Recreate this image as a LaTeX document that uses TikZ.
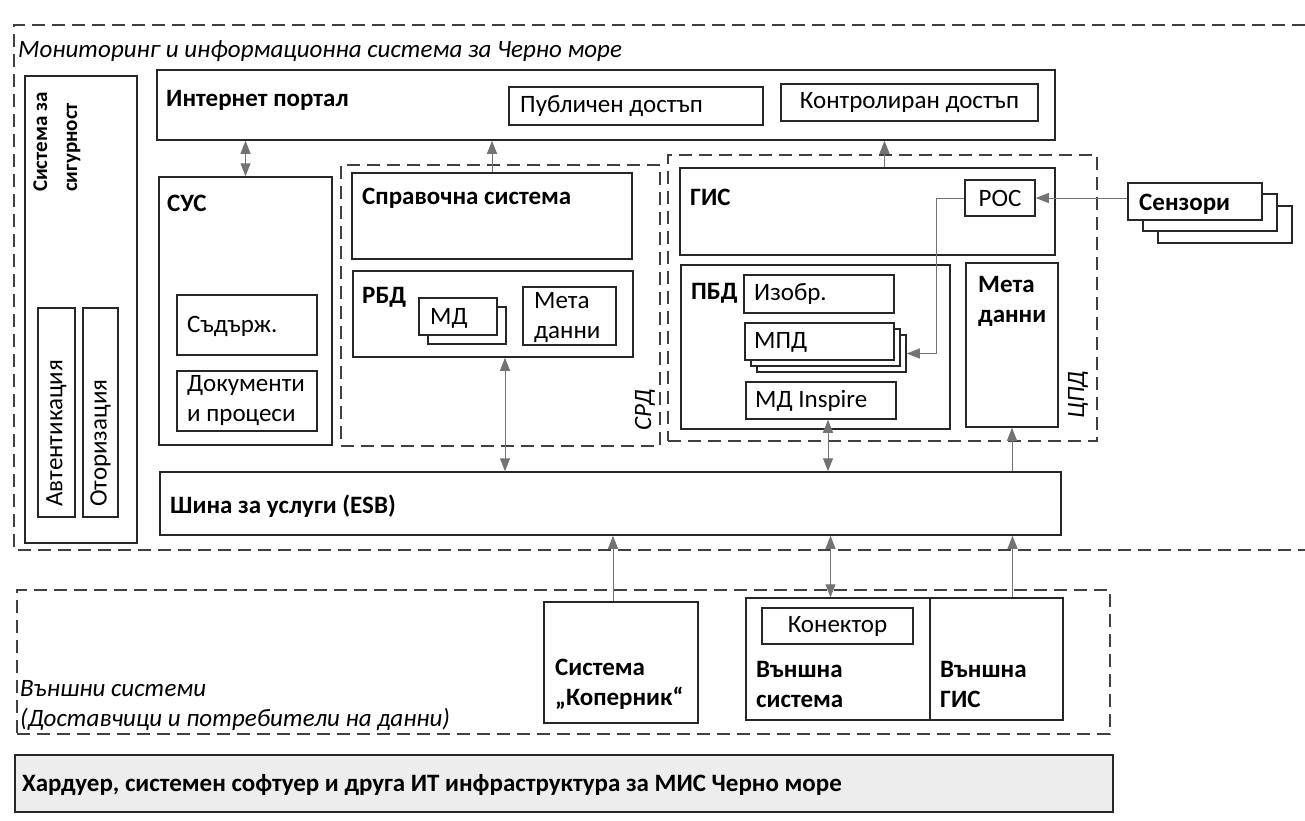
\documentclass[tikz,border=0pt]{standalone}
\usepackage{fontspec}
\setmainfont{Carlito}
\usetikzlibrary{arrows.meta, fit, positioning}
\tikzstyle{box} = [rectangle, 
draw=black!85, 
line width=1.5pt, 
fill=white, 
inner sep=0pt]
\tikzstyle{group} = [rectangle, 
draw=black!75, 
line width=1.4pt, 
dash pattern=on 13pt off 7pt, 
inner sep=0pt]
\tikzstyle{dashline} = [draw=black!75, line width=1.4pt, dash pattern=on 13pt off 7pt]
\tikzstyle{head} = [font=\bfseries, anchor=west, inner sep=0pt]
\tikzstyle{plain} = [anchor=west, inner sep=0pt]
\tikzstyle{note} = [font=\itshape, anchor=west, inner sep=0pt]
\tikzstyle{arrow} = [line width=1pt, draw=black!55, -{Triangle[length=13pt, width=10pt]}]
\tikzstyle{twoway} = [arrow, {Triangle[length=13pt, width=10pt]}-{Triangle[length=13pt, width=10pt]}]
\begin{document}
\fontsize{25}{30}\selectfont
\begin{tikzpicture}[x=1pt, y=-1pt]
  \useasboundingbox (0,0) rectangle (1305,820);
  % MIS frame
  \draw [dashline] (1305,25) -- (14,25) -- (14,550) -- (1305,550);
  \node (mistitle) [note] at (18,51) {Мониторинг и информационна система за Черно море};

  % security
  \node (sec) [box, fit={(25,76) (137,543)}] {};
  \node (sectxt) [head, rotate=90, align=left, font=\fontsize{21}{30}\selectfont\bfseries] at (57,192) {Система за\\сигурност};
  \node (auth) [box, fit={(38,308) (75,517)}] {};
  \node (authtxt) [plain, rotate=90] at (56.5,507) {Автентикация};
  \node (authz) [box, fit={(83,308) (118,517)}] {};
  \node (authztxt) [plain, rotate=90] at (100.5,507) {Оторизация};

  % portal
  \node (portal) [box, fit={(157,70) (1055,140)}] {};
  \node (portaltxt) [head] at (166,100) {Интернет портал};
  \node (pub) [box, fit={(509,87) (763,125)}] {};
  \node (pubtxt) [plain] at (520,106) {Публичен достъп};
  \node (ctrl) [box, fit={(781,84) (1038,121)}] {};
  \node (ctrltxt) at (ctrl) {Контролиран достъп};

  % content management
  \node (sus) [box, fit={(159,177) (332,445)}] {};
  \node (sustxt) [head] at (167,203) {СУС};
  \node (content) [box, fit={(177,295) (317,355)}] {};
  \node (contenttxt) [plain] at (187,326) {Съдърж.};
  \node (docs) [box, fit={(177,371) (317,431)}] {};
  \node (docstxt) [plain, align=left] at (187,401) {Документи\\и процеси};

  % SRD
  \node (srd) [group, fit={(341,165) (660,446)}] {};
  \node (srdtxt) [note, rotate=90, anchor=center] at (645,410) {СРД};
  \node (ref) [box, fit={(352,173) (632,259)}] {};
  \node (reftxt) [head] at (362,198) {Справочна система};
  \node (rbd) [box, fit={(353,271) (633,357)}] {};
  \node (rbdtxt) [head] at (362,297) {РБД};
  \node (mdback) [box, fit={(428,307) (506,344)}] {};
  \node (md) [box, fit={(419,298) (497,335)}] {};
  \node (mdtxt) [plain] at (430,318) {МД};
  \node (meta1) [box, fit={(523,287) (616,345)}] {};
  \node (meta1txt) [plain, align=left] at (534,318) {Мета\\данни};

  % CPD
  \node (cpd) [group, fit={(668,155) (1097,441)}] {};
  \node (cpdtxt) [note, rotate=90, anchor=center] at (1078,395) {ЦПД};
  \node (gis) [box, fit={(680,168) (1055,255)}] {};
  \node (gistxt) [head] at (690,197) {ГИС};
  \node (roc) [box, fit={(965,180) (1035,216)}] {};
  \node (roctxt) at (roc) {РОС};
  \node (pbd) [box, fit={(681,265) (950,429)}] {};
  \node (pbdtxt) [head] at (691,293) {ПБД};
  \node (img) [box, fit={(744,275) (894,313)}] {};
  \node (imgtxt) [plain] at (754,294) {Изобр.};
  \node (mpdc) [box, fit={(757,335) (906,372)}] {};
  \node (mpdb) [box, fit={(751,329) (900,366)}] {};
  \node (mpd) [box, fit={(745,323) (894,360)}] {};
  \node (mpdtxt) [plain] at (754,342) {МПД};
  \node (inspire) [box, fit={(746,382) (896,419)}] {};
  \node (inspiretxt) [plain] at (755,401) {МД Inspire};
  \node (meta2) [box, fit={(966,263) (1058,427)}] {};
  \node (meta2txt) [head, align=left, anchor=north west] at (978,276) {Мета\\данни};

  % sensors
  \node (sensc) [box, fit={(1158,206) (1292,243)}] {};
  \node (sensb) [box, fit={(1143,194) (1277,231)}] {};
  \node (sens) [box, fit={(1128,183) (1262,220)}] {};
  \node (senstxt) [head] at (1139,204) {Сензори};

  % ESB
  \node (esb) [box, fit={(160,472) (1061,535)}] {};
  \node (esbtxt) [head] at (170,506) {Шина за услуги (ESB)};

  % external systems
  \node (ext) [group, fit={(17,590) (1110,734)}] {};
  \node (exttxt) [note, align=left] at (20,706) {Външни системи\\(Доставчици и потребители на данни)};
  \node (cop) [box, fit={(544,602) (698,723)}] {};
  \node (coptxt) [head, align=left] at (555,684) {Система\\„Коперник“};
  \node (extsys) [box, fit={(746,598) (930,720)}] {};
  \node (conn) [box, fit={(762,608) (913,644)}] {};
  \node (conntxt) at (conn) {Конектор};
  \node (extsystxt) [head, align=left] at (756,684) {Външна\\система};
  \node (extgis) [box, fit={(930,598) (1063,720)}] {};
  \node (extgistxt) [head, align=left] at (940,684) {Външна\\ГИС};

  % hardware
  \node (hw) [box, fill=black!7, fit={(15,755) (1113,812)}] {};
  \node (hwtxt) [head] at (22,785) {Хардуер, системен софтуер и друга ИТ инфраструктура за МИС Черно море};

  \draw [twoway] (sus.north) -- (sus.north |- portal.south);
  \draw [arrow] (ref.north) -- (ref.north |- portal.south);
  \draw [arrow] ([xshift=17pt]gis.north) -- ([xshift=17pt]gis.north |- portal.south);
  \draw [twoway] ([xshift=12pt]rbd.south) -- ([xshift=12pt]rbd.south |- esb.north);
  \draw [twoway] ([xshift=7pt]inspire.south) -- ([xshift=7pt]inspire.south |- esb.north);
  \draw [arrow] (meta2.south |- esb.north) -- (meta2.south);
  \draw [arrow] ([xshift=-8pt]cop.north) -- ([xshift=-8pt]cop.north |- esb.south);
  \draw [twoway] ([xshift=-7pt]conn.north |- extsys.north) -- ([xshift=-7pt]conn.north |- esb.south);
  \draw [arrow] ([xshift=16pt]extgis.north) -- ([xshift=16pt]extgis.north |- esb.south);
  \draw [arrow] (sens.west |- roc.east) -- (roc.east);
  \draw [arrow] (roc.west) -- ++(-28,0) |- (mpdc.east);
\end{tikzpicture}
\end{document}
